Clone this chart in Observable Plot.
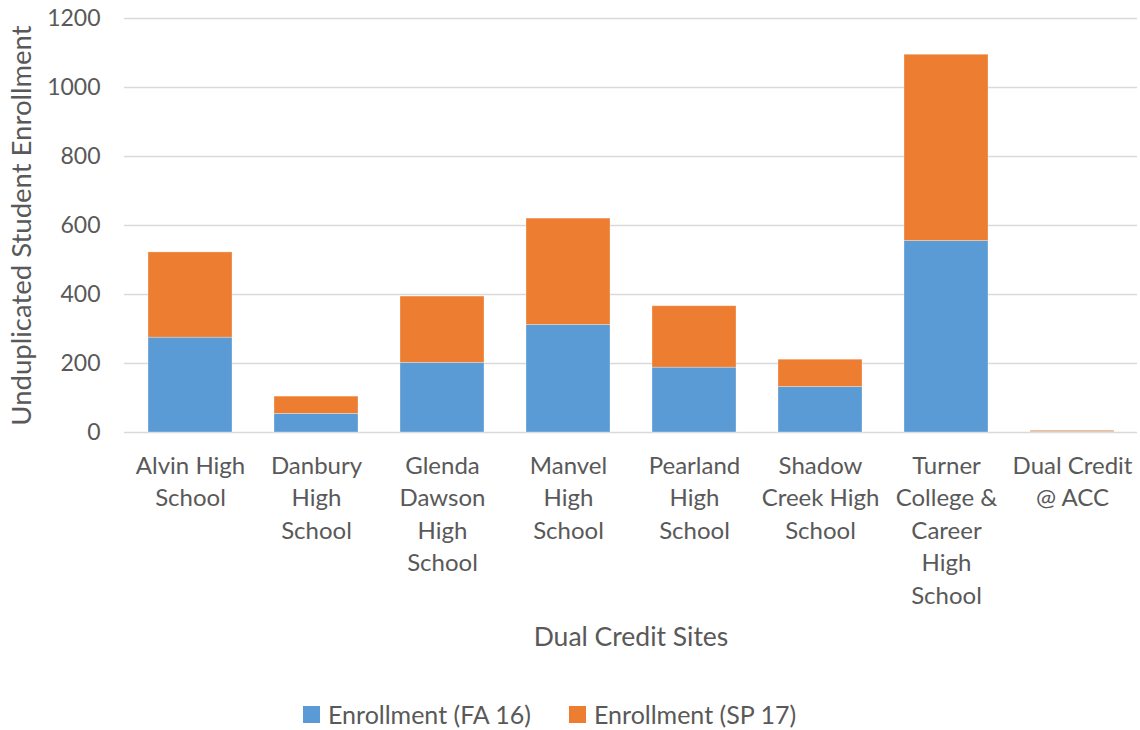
<!DOCTYPE html>
<html>
<head>
<meta charset="utf-8">
<script src="https://cdn.jsdelivr.net/npm/d3@7"></script>
<script src="https://cdn.jsdelivr.net/npm/@observablehq/plot@0.6"></script>
<style>
  body { margin: 0; background: #fff; font-family: Lato, "Open Sans", sans-serif; }
  #legend { position: relative; height: 65px; font-size: 25px; color: #595959; }
  #legend .item { position: absolute; top: 35px; display: flex; align-items: center; gap: 8px; line-height: 28px; }
  #legend .sw { width: 17px; height: 17px; display: inline-block; }
</style>
</head>
<body>
<div id="chart"></div>
<div id="legend"></div>
<script>
const sites = [
  "Alvin High\nSchool",
  "Danbury\nHigh\nSchool",
  "Glenda\nDawson\nHigh\nSchool",
  "Manvel\nHigh\nSchool",
  "Pearland\nHigh\nSchool",
  "Shadow\nCreek High\nSchool",
  "Turner\nCollege &\nCareer\nHigh\nSchool",
  "Dual Credit\n@ ACC"
];
const fa16 = [275, 54, 202, 312, 188, 132, 555, 2];
const sp17 = [247, 50, 192, 308, 178, 79, 540, 3];
const seriesNames = ["Enrollment (FA 16)", "Enrollment (SP 17)"];
const seriesColors = ["#5b9bd5", "#ed7d31"];
const yTicks = [0, 200, 400, 600, 800, 1000, 1200];

const data = [];
sites.forEach((s, i) => {
  data.push({site: s, series: seriesNames[0], value: fa16[i]});
  data.push({site: s, series: seriesNames[1], value: sp17[i]});
});

const chart = Plot.plot({
  width: 1140,
  height: 665,
  marginTop: 18,
  marginBottom: 233,
  marginLeft: 124,
  marginRight: 3,
  style: {fontFamily: "Lato, 'Open Sans', sans-serif", fontSize: "21px", color: "#595959", background: "#fff"},
  x: {domain: sites, paddingInner: 0.335, paddingOuter: 0.1675, label: null},
  y: {domain: [0, 1200], label: null},
  color: {domain: seriesNames, range: seriesColors},
  marks: [
    Plot.gridY(yTicks, {stroke: "#d9d9d9", strokeOpacity: 1, strokeWidth: 1.5}),
    Plot.barY(data, {x: "site", y: "value", fill: "series", stroke: "#fff", strokeOpacity: 0.4, strokeWidth: 0.75}),
    Plot.axisY({ticks: yTicks, tickFormat: d => String(d), tickSize: 0, tickPadding: 24, fontSize: 23, fill: "#595959", label: null}),
    Plot.axisX({tickSize: 0, tickPadding: 18, fontSize: 24, fill: "#595959", lineHeight: 1.355, label: null}),
    Plot.text(["Unduplicated Student Enrollment"], {frameAnchor: "left", dx: -102, rotate: -90, textAnchor: "middle", fontSize: 27.5, fill: "#595959"}),
    Plot.text(["Dual Credit Sites"], {frameAnchor: "bottom", dy: 213, fontSize: 26.5, fill: "#595959"})
  ]
});
document.getElementById("chart").appendChild(chart);

const legend = document.getElementById("legend");
const legendX = [303, 569];
seriesNames.forEach((n, i) => {
  const item = document.createElement("div");
  item.className = "item";
  item.style.left = legendX[i] + "px";
  const sw = document.createElement("span");
  sw.className = "sw";
  sw.style.background = seriesColors[i];
  const t = document.createElement("span");
  t.textContent = n;
  item.appendChild(sw);
  item.appendChild(t);
  legend.appendChild(item);
});
</script>
</body>
</html>
